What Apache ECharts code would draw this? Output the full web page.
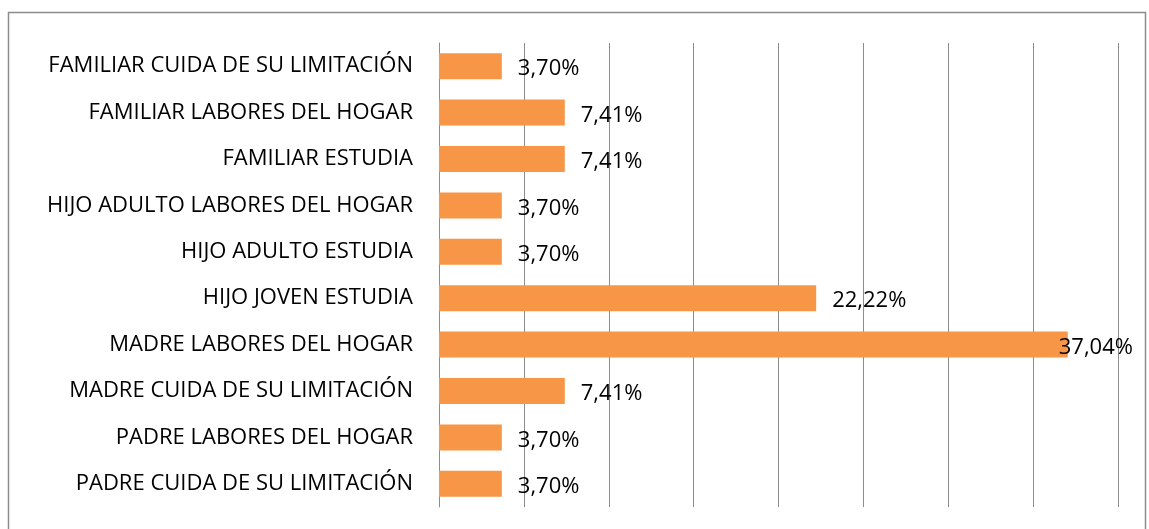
<!DOCTYPE html>
<html>
<head>
<meta charset="utf-8">
<script src="https://cdn.jsdelivr.net/npm/echarts@6/dist/echarts.min.js"></script>
<style>
  html, body { margin: 0; padding: 0; background: #fff; }
  #chart { width: 1149px; height: 529px; }
</style>
</head>
<body>
<div id="chart"></div>
<script>
// categorias (de arriba hacia abajo)
const categories = [
  'FAMILIAR CUIDA DE SU LIMITACIÓN',
  'FAMILIAR LABORES DEL HOGAR',
  'FAMILIAR ESTUDIA',
  'HIJO ADULTO LABORES DEL HOGAR',
  'HIJO ADULTO ESTUDIA',
  'HIJO JOVEN ESTUDIA',
  'MADRE LABORES DEL HOGAR',
  'MADRE CUIDA DE SU LIMITACIÓN',
  'PADRE LABORES DEL HOGAR',
  'PADRE CUIDA DE SU LIMITACIÓN'
]
// porcentajes
const values = [3.70, 7.41, 7.41, 3.70, 3.70, 22.22, 37.04, 7.41, 3.70, 3.70]
const axisMax = 40
const axisStep = 5

const chart = echarts.init(document.getElementById('chart'))
const maxVal = Math.max(...values)

const seriesData = values.map(v => {
  const item = { value: v }
  // la etiqueta mas larga queda dentro del area, como en excel
  if (v === maxVal) {
    item.label = { distance: -9 }
  }
  return item
})

const option = {
  animation: false,
  graphic: [
    {
      type: 'rect',
      shape: { x: 8.5, y: 12.5, width: 1137, height: 540 },
      style: { fill: 'none', stroke: '#8c8c8c', lineWidth: 1.5 },
      silent: true
    }
  ],
  grid: {
    left: 439,
    right: 31,
    top: 43,
    bottom: 22,
    containLabel: false
  },
  xAxis: {
    type: 'value',
    min: 0,
    max: axisMax,
    interval: axisStep,
    axisLabel: { show: false },
    axisTick: { show: false },
    axisLine: { show: false },
    splitLine: { show: true, lineStyle: { color: '#8c8c8c', width: 1 } }
  },
  yAxis: {
    type: 'category',
    data: categories,
    inverse: true,
    axisTick: { show: false },
    axisLine: { show: true, lineStyle: { color: '#8c8c8c', width: 1 } },
    axisLabel: {
      margin: 26,
      color: '#000',
      fontFamily: 'Open Sans',
      fontSize: 22
    }
  },
  series: [
    {
      type: 'bar',
      data: seriesData,
      barWidth: 26,
      itemStyle: { color: '#f79646' },
      label: {
        show: true,
        position: 'right',
        distance: 16,
        offset: [0, 3],
        color: '#000',
        fontFamily: 'Open Sans',
        fontSize: 22,
        formatter: p => p.value.toFixed(2).replace('.', ',') + '%'
      }
    }
  ]
}

chart.setOption(option)
</script>
</body>
</html>
